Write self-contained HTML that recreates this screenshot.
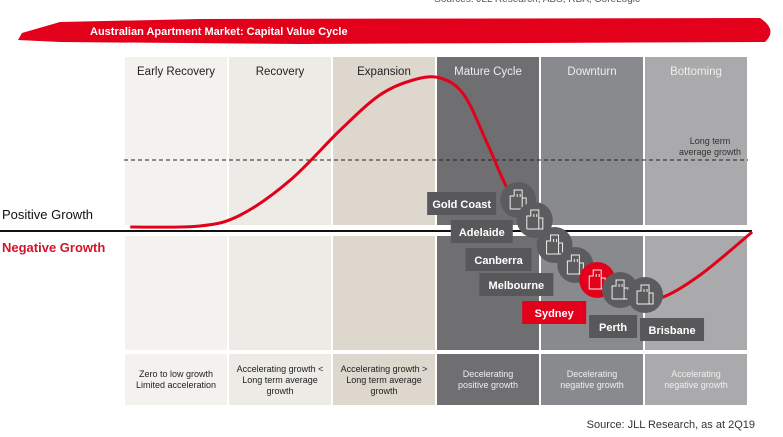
<!DOCTYPE html>
<html><head><meta charset="utf-8"><style>
body{margin:0;background:#fff;}
svg{display:block;font-family:"Liberation Sans",sans-serif;}
</style></head><body>
<svg id="c" width="783" height="437" viewBox="0 0 783 437">
<text x="640" y="2" font-size="10" fill="#555" text-anchor="end">Sources: JLL Research, ABS, RBA, CoreLogic</text>
<path d="M22,33 L60,22 L200,19 L760,18 Q778,30 765,42 L300,44 L60,42 L18,40 Z" fill="#e2001a"/>
<text x="90" y="35" font-size="11" font-weight="bold" fill="#fff">Australian Apartment Market: Capital Value Cycle</text>
<g id="panels"></g>
<line x1="124" y1="160" x2="748" y2="160" stroke="#222" stroke-width="1" stroke-dasharray="4,3"/>
<text x="710" y="144" font-size="9" fill="#333" text-anchor="middle">Long term</text>
<text x="710" y="155" font-size="9" fill="#333" text-anchor="middle">average growth</text>
<line x1="0" y1="231" x2="752" y2="231" stroke="#111" stroke-width="2"/>
<text x="2" y="219" font-size="13" fill="#111">Positive Growth</text>
<text x="2" y="252" font-size="13" font-weight="bold" fill="#d2142a">Negative Growth</text>
<path id="curve" fill="none" stroke="#e2001a" stroke-width="3"/>
<g id="cities"></g>
<text x="755" y="428" font-size="11" fill="#333" text-anchor="end">Source: JLL Research, as at 2Q19</text>
</svg>
<script>
const phases=["Early Recovery","Recovery","Expansion","Mature Cycle","Downturn","Bottoming"];
const phaseDesc=[["Zero to low growth","Limited acceleration"],["Accelerating growth <","Long term average","growth"],["Accelerating growth >","Long term average","growth"],["Decelerating","positive growth"],["Decelerating","negative growth"],["Accelerating","negative growth"]];
const curveT=[0.06,0.73,1.12,1.6,2.08,2.46,2.78,3.04,3.27,3.5,3.72,4.0,4.29,4.58,4.87,5.16,5.54,6.04];
const curveG=[4,5,16,51,101,136,151,153,136,86,36,1,-27,-49,-67,-67,-44,-1];
const cities=["Gold Coast","Adelaide","Canberra","Melbourne","Sydney","Perth","Brisbane"];
const cityT=[3.79,3.95,4.14,4.34,4.55,4.77,5.01];
const cityG=[31,11,-14,-34,-49,-59,-64];
const highlight="Sydney";
const X0=124,PW=104,Y0=231;
const xs=t=>X0+t*PW, ys=g=>Y0-g;
const NS="http://www.w3.org/2000/svg";
function mk(tag,at,parent){const e=document.createElementNS(NS,tag);for(const k in at)e.setAttribute(k,at[k]);parent.appendChild(e);return e;}
const fills=["#f3f2ef","#ecebe6","#ddd7ce","#6f6f72","#898a8d","#aaaaac"];
const tcol=["#222","#222","#222","#eee","#eee","#eee"];
const P=document.getElementById('panels');
phases.forEach((p,i)=>{
 const x=xs(i)+1,w=PW-2;
 [[57,168],[236,114],[354,51]].forEach((s,j)=>{
  const r=mk('rect',{x:x,y:s[0],width:w,height:s[1],fill:fills[i]},P);
  
  
 });
 const t=mk('text',{x:x+w/2,y:75,'font-size':11.5,fill:tcol[i],'text-anchor':'middle'},P);
 t.textContent=p;
 
 
 const d=phaseDesc[i];const y0=d.length==2?377:372;
 d.forEach((l,k)=>{const tt=mk('text',{x:x+w/2,y:y0+k*11,'font-size':9,fill:tcol[i],'text-anchor':'middle'},P);tt.textContent=l;
 
 });
});
const pts=curveT.map((t,i)=>[xs(t),ys(curveG[i])]);
let d="M"+pts[0][0]+","+pts[0][1];
for(let i=0;i<pts.length-1;i++){const p0=pts[Math.max(0,i-1)],p1=pts[i],p2=pts[i+1],p3=pts[Math.min(pts.length-1,i+2)];
d+=` C${p1[0]+(p2[0]-p0[0])/6},${p1[1]+(p2[1]-p0[1])/6} ${p2[0]-(p3[0]-p1[0])/6},${p2[1]-(p3[1]-p1[1])/6} ${p2[0]},${p2[1]}`;}
document.getElementById('curve').setAttribute('d',d);
const C=document.getElementById('cities');
const lblOff=[[-91,3],[-84,11],[-89,14],[-96,19],[-75,32],[-31,36],[-5,34]];
const lblW=[69,62,66,74,64,48,64];
cities.forEach((c,i)=>{
 const cx=xs(cityT[i]),cy=ys(cityG[i]);const hi=c===highlight;
 const g=mk('g',{},C);
 
 
 mk('circle',{cx:cx,cy:cy,r:18,fill:hi?"#e2001a":"#5c5c5e"},g);
 mk('path',{d:`M${cx-8},${cy+9}V${cy-4}H${cx-4}V${cy-10}H${cx+4}V${cy+9}M${cx+4},${cy-2}H${cx+8}V${cy+9}H${cx-8}M${cx-1},${cy-6}v3M${cx+2},${cy-6}v3`,fill:"none",stroke:"#eee","stroke-width":1},g);
 const lx=cx+lblOff[i][0],ly=cy+lblOff[i][1]-11;
 mk('rect',{x:lx,y:ly,width:lblW[i],height:23,fill:hi?"#e2001a":"#58585a"},g);
 const t=mk('text',{x:lx+lblW[i]/2,y:ly+16,'font-size':11,'font-weight':'bold',fill:'#fff','text-anchor':'middle'},g);
 t.textContent=c;
});
</script>
</body></html>
